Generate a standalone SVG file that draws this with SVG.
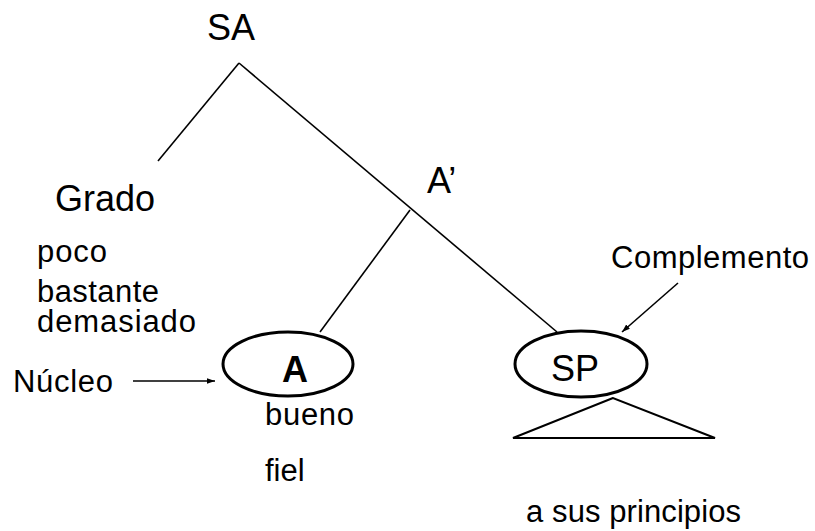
<svg xmlns="http://www.w3.org/2000/svg" width="815" height="531" viewBox="0 0 815 531">
<style>
text{font-family:"Liberation Sans",Arial,sans-serif;fill:#000}
.b{font-size:36px}
.s{font-size:31px}
.edge{stroke:#000;stroke-width:1.6;fill:none}
.ell{stroke:#000;stroke-width:3;fill:#fff}
</style>
<defs>
<marker id="ah" viewBox="0 0 10 10" refX="10" refY="5" markerWidth="8" markerHeight="8" orient="auto" markerUnits="userSpaceOnUse">
<path d="M0,1.5 L10,5 L0,8.5 Z" fill="#000"/>
</marker>
</defs>
<g id="connectors">
<line class="edge" x1="239" y1="63" x2="158" y2="161"/>
<line class="edge" x1="239" y1="63" x2="557" y2="332"/>
<line class="edge" x1="410" y1="210" x2="320" y2="332"/>
<line class="edge" x1="133" y1="381" x2="215" y2="381" marker-end="url(#ah)"/>
<line class="edge" x1="678" y1="283" x2="622" y2="332" marker-end="url(#ah)"/>
</g>
<g id="node-SA"><text class="b" x="207" y="40">SA</text></g>
<g id="node-Grado">
<text class="b" x="55" y="211">Grado</text>
<text class="s" x="37" y="262" textLength="70">poco</text>
<text class="s" x="37" y="302" textLength="122">bastante</text>
<text class="s" x="37" y="332" textLength="159">demasiado</text>
</g>
<g id="node-Aprime"><text class="b" x="427" y="193">A’</text></g>
<g id="node-A">
<ellipse class="ell" cx="288" cy="364" rx="65" ry="32"/>
<text class="b" x="295" y="382" text-anchor="middle" font-weight="bold">A</text>
<text class="s" x="265" y="425" textLength="89">bueno</text>
<text class="s" x="265" y="481">fiel</text>
</g>
<g id="node-SP">
<ellipse class="ell" cx="581" cy="364" rx="66" ry="33"/>
<text class="b" x="551" y="381">SP</text>
<polygon points="613,398 513,438 715,438" fill="none" stroke="#000" stroke-width="2"/>
<text class="s" x="526" y="522" textLength="215">a sus principios</text>
</g>
<g id="node-Nucleo"><text class="s" x="13" y="392" textLength="100">Núcleo</text></g>
<g id="node-Complemento"><text class="s" x="611" y="268" textLength="198">Complemento</text></g>
</svg>
